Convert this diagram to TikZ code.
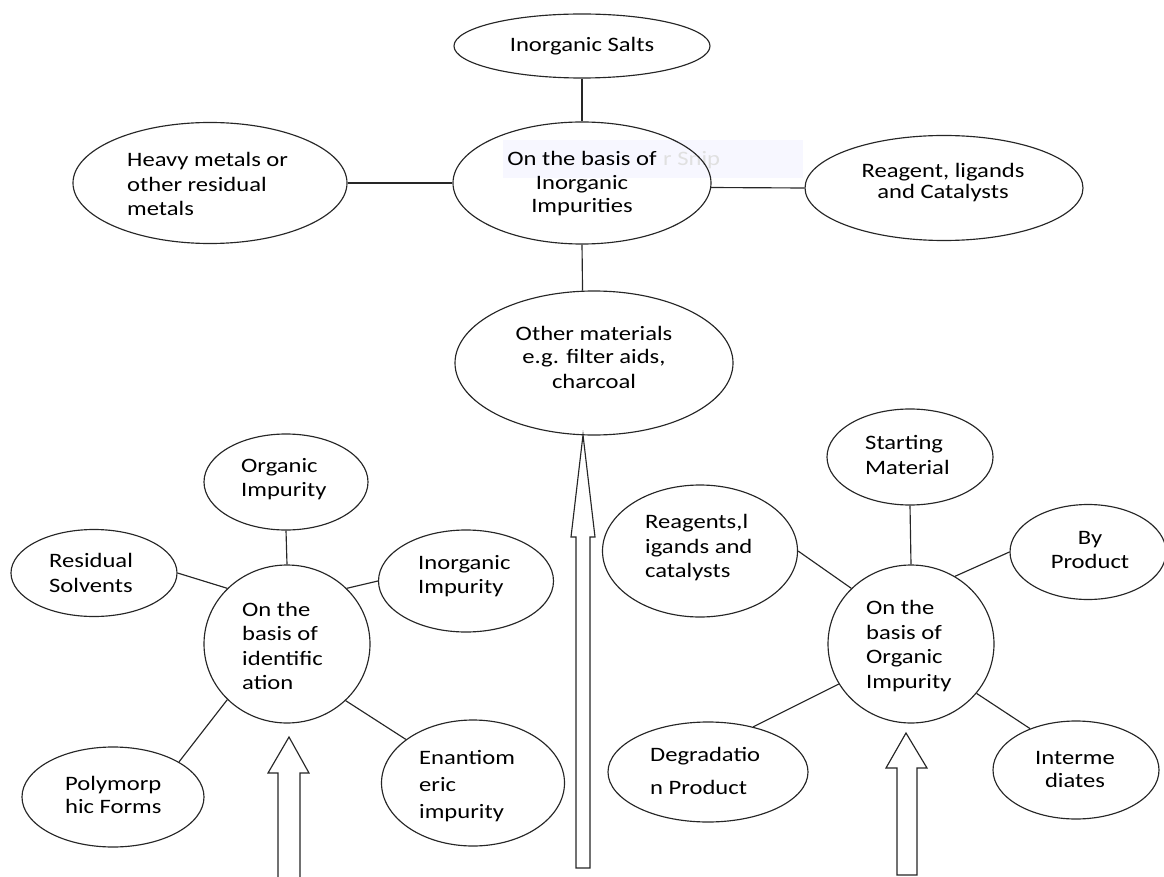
\documentclass[tikz,border=0pt]{standalone}
\usepackage{fontspec}
\setmainfont{Carlito}[FakeStretch=1.2]
\usetikzlibrary{shapes.geometric}
\begin{document}
\begin{tikzpicture}[x=1pt,y=-1pt,
  oval/.style={ellipse, draw=black!85, line width=1.15pt, inner sep=0pt},
  lbl/.style={font=\fontsize{20.5}{24.5}\selectfont, inner sep=0pt, text=black},
  lbll/.style={lbl, anchor=west, align=left},
  lblc/.style={lbl, align=center},
  link/.style={draw=black!85, line width=1.15pt},
  hollowarrow/.style={draw=black!85, line width=1.15pt, fill=white, line join=miter}]
\useasboundingbox (0,0) rectangle (1164,877);
% faint screenshot overlay
\fill[blue!3] (503,140) rectangle (803,178);
\node[lbl, anchor=west, text=black!12] (snip) at (663,160) {r Snip};

% ---- top cluster: inorganic impurities ----
\node[oval, minimum width=256pt, minimum height=64pt] (salts) at (582,46) {};
\node[oval, minimum width=258pt, minimum height=122pt] (inorg) at (582,183) {};
\node[oval, minimum width=274pt, minimum height=121pt] (heavy) at (210,183) {};
\node[oval, minimum width=278pt, minimum height=105pt] (reag) at (944,188) {};
\node[oval, minimum width=278pt, minimum height=144pt] (other) at (594,363) {};

\node[lblc] (tsalts) at (582,46) {Inorganic Salts};
\node[lblc] (tinorg) at (582,184) {On the basis of\\[-1pt] Inorganic\\[-1pt] Impurities};
\node[lbll] (theavy) at (127,184) {Heavy metals or\\ other residual\\ metals};
\node[lblc] (treag) at (943,183) {Reagent, ligands\\[-3.5pt] and Catalysts};
\node[lblc] (tother) at (594,357) {Other materials\\[-1pt] e.g. filter aids,\\ charcoal};

\path[link] (salts.south) -- (inorg.north);
\path[link] (heavy.east) -- (inorg.west);
\path[link] (inorg.-2.5) -- (reag.west);
\path[link] (inorg.south) -- (other.99);

% ---- left cluster: identification ----
\node[oval, minimum width=164pt, minimum height=96pt] (orgimp) at (286,482) {};
\node[oval, minimum width=166pt, minimum height=158pt] (ident) at (287,644) {};
\node[oval, minimum width=166pt, minimum height=87pt] (resid) at (94,573) {};
\node[oval, minimum width=175pt, minimum height=102pt] (inorgimp) at (466,581) {};
\node[oval, minimum width=182pt, minimum height=100pt] (poly) at (113,797) {};
\node[oval, minimum width=183pt, minimum height=126pt] (enant) at (473,783) {};

\node[lbll] (torgimp) at (241,479) {Organic\\[-1pt] Impurity};
\node[lbll] (tident) at (242,646) {On the\\ basis of\\ identific\\ ation};
\node[lbll] (tresid) at (49,573) {Residual\\ Solvents};
\node[lbll] (tinorgimp) at (418,576) {Inorganic\\ Impurity};
\node[lbll] (tpoly) at (65,795) {Polymorp\\[-1.5pt] hic Forms};
\node[lbll] (tenant) at (419,786) {Enantiom\\[2.5pt] eric\\[2.5pt] impurity};

\path[link] (orgimp.south) -- (ident.north);
\path[link] (resid.east) -- (ident.137);
\path[link] (inorgimp.west) -- (ident.43);
\path[link] (ident.223) -- (poly.28);
\path[link] (ident.-44) -- (enant.147);

% ---- right cluster: organic impurity ----
\node[oval, minimum width=166pt, minimum height=96pt] (start) at (910,457) {};
\node[oval, minimum width=166pt, minimum height=158pt] (orgc) at (911,644) {};
\node[oval, minimum width=195pt, minimum height=132pt] (reags) at (700,551) {};
\node[oval, minimum width=156pt, minimum height=95pt] (byp) at (1088,552) {};
\node[oval, minimum width=200pt, minimum height=100pt] (degr) at (708,772) {};
\node[oval, minimum width=166pt, minimum height=98pt] (inter) at (1076,770) {};

\node[lbll] (tstart) at (865,455) {Starting\\ Material};
\node[lbll] (torgc) at (866,646) {On the\\ basis of\\ Organic\\ Impurity};
\node[lbll] (treags) at (645,548) {Reagents,l\\ igands and\\ catalysts};
\node[lblc] (tbyp) at (1090,550) {By\\ Product};
\node[lbll] (tdegr) at (650,771) {Degradatio\\[9pt] n Product};
\node[lblc] (tinter) at (1075,769) {Interme\\[-1.5pt] diates};

\path[link] (start.south) -- (orgc.north);
\path[link] (reags.east) -- (orgc.137);
\path[link] (byp.west) -- (orgc.57);
\path[link] (orgc.209) -- (degr.45);
\path[link] (orgc.-37) -- (inter.138);

% ---- hollow arrows ----
\path[hollowarrow] (278,878) -- (278,773) -- (268,773) -- (289,737) -- (309,773) -- (300,773) -- (300,878);
\path[hollowarrow] (576,868) -- (576,537) -- (571,537) -- (583,435) -- (595,537) -- (590,537) -- (590,868) -- cycle;
\path[hollowarrow] (897,875) -- (897,768) -- (886,768) -- (906,733) -- (927,768) -- (917,768) -- (917,875) -- cycle;
\end{tikzpicture}
\end{document}
